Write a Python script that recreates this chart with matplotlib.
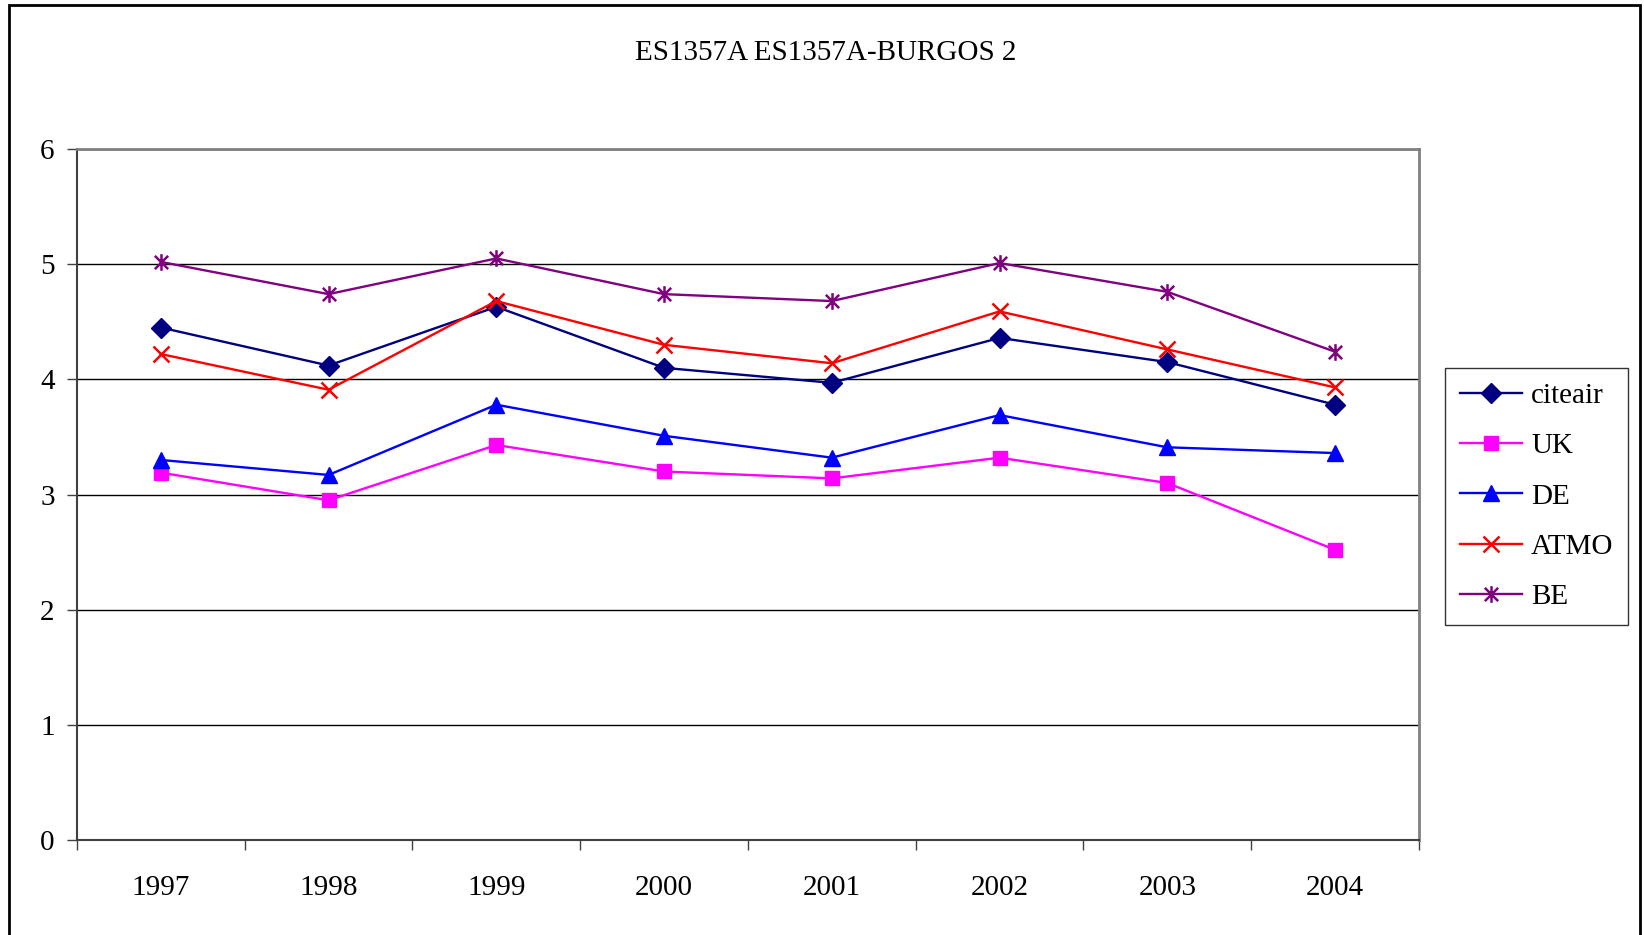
import matplotlib
matplotlib.use("Agg")
import matplotlib.pyplot as plt
import numpy as np
from matplotlib.path import Path
from matplotlib.patches import Rectangle

# data
years = ['1997', '1998', '1999', '2000', '2001', '2002', '2003', '2004']
citeair = [4.45, 4.12, 4.63, 4.10, 3.97, 4.36, 4.15, 3.78]
uk = [3.19, 2.95, 3.43, 3.20, 3.14, 3.32, 3.10, 2.52]
de = [3.30, 3.17, 3.78, 3.51, 3.32, 3.69, 3.41, 3.36]
atmo = [4.22, 3.91, 4.68, 4.30, 4.14, 4.59, 4.26, 3.93]
be = [5.02, 4.74, 5.05, 4.74, 4.68, 5.01, 4.76, 4.24]

plt.rcParams['font.family'] = ['Liberation Serif', 'DejaVu Serif']

# excel style asterisk: vertical bar plus an x
star = Path([(0, -1), (0, 1), (-0.8, -0.8), (0.8, 0.8), (-0.8, 0.8), (0.8, -0.8)],
            [Path.MOVETO, Path.LINETO, Path.MOVETO, Path.LINETO, Path.MOVETO, Path.LINETO])

fig = plt.figure(figsize=(16.44, 9.35), dpi=100)
ax = fig.add_axes([0.0468, 0.1016, 0.8163, 0.739])

x = np.arange(len(years))
ax.plot(x, citeair, color='#000080', marker='D', ms=10, lw=1.7, label='citeair', zorder=5)
ax.plot(x, uk, color='#FF00FF', marker='s', ms=10.5, lw=1.7, label='UK', zorder=3)
ax.plot(x, de, color='#0000FF', marker='^', ms=11.5, lw=1.7, label='DE', zorder=4)
ax.plot(x, atmo, color='#FF0000', marker='x', ms=11, mew=1.8, lw=1.7, label='ATMO', zorder=6)
ax.plot(x, be, color='#800080', marker=star, ms=12, mew=1.8, lw=1.7, label='BE', zorder=6)

ax.set_xlim(-0.5, len(years) - 0.5)
ax.set_ylim(0, 6)
ax.set_yticks(range(0, 7))
ax.set_xticks(np.arange(-0.5, len(years), 1.0))
ax.set_xticklabels([])
ax.set_xticks(x, minor=True)
ax.set_xticklabels(years, minor=True)
ax.tick_params(axis='x', which='minor', length=0, pad=25, labelsize=21)
ax.tick_params(axis='x', which='major', length=7, width=1, color='#404040')
ax.tick_params(axis='y', length=7, width=1, color='#404040', pad=9, labelsize=21)

ax.grid(axis='y', color='black', lw=1)
ax.set_axisbelow(True)
for s in ['top', 'right']:
    ax.spines[s].set_color('#808080')
    ax.spines[s].set_linewidth(2)
for s in ['left', 'bottom']:
    ax.spines[s].set_color('#404040')
    ax.spines[s].set_linewidth(1.5)

fig.text(0.5025, 0.943, 'ES1357A ES1357A-BURGOS 2', ha='center', va='center', fontsize=21)

leg = fig.legend(loc='upper left', bbox_to_anchor=(0.879, 0.6064), fontsize=21,
                 frameon=True, fancybox=False, edgecolor='black', borderpad=0.5,
                 handlelength=2.15, labelspacing=0.82, handletextpad=0.3, borderaxespad=0)
leg.get_frame().set_linewidth(1)

# chart area border
fig.patches.append(Rectangle((9 / 1644, -0.01), (1640 - 9) / 1644, 1 - 5 / 935 + 0.01,
                             transform=fig.transFigure, fill=False, edgecolor='black', lw=2))

fig.savefig('out.png', dpi=100)
